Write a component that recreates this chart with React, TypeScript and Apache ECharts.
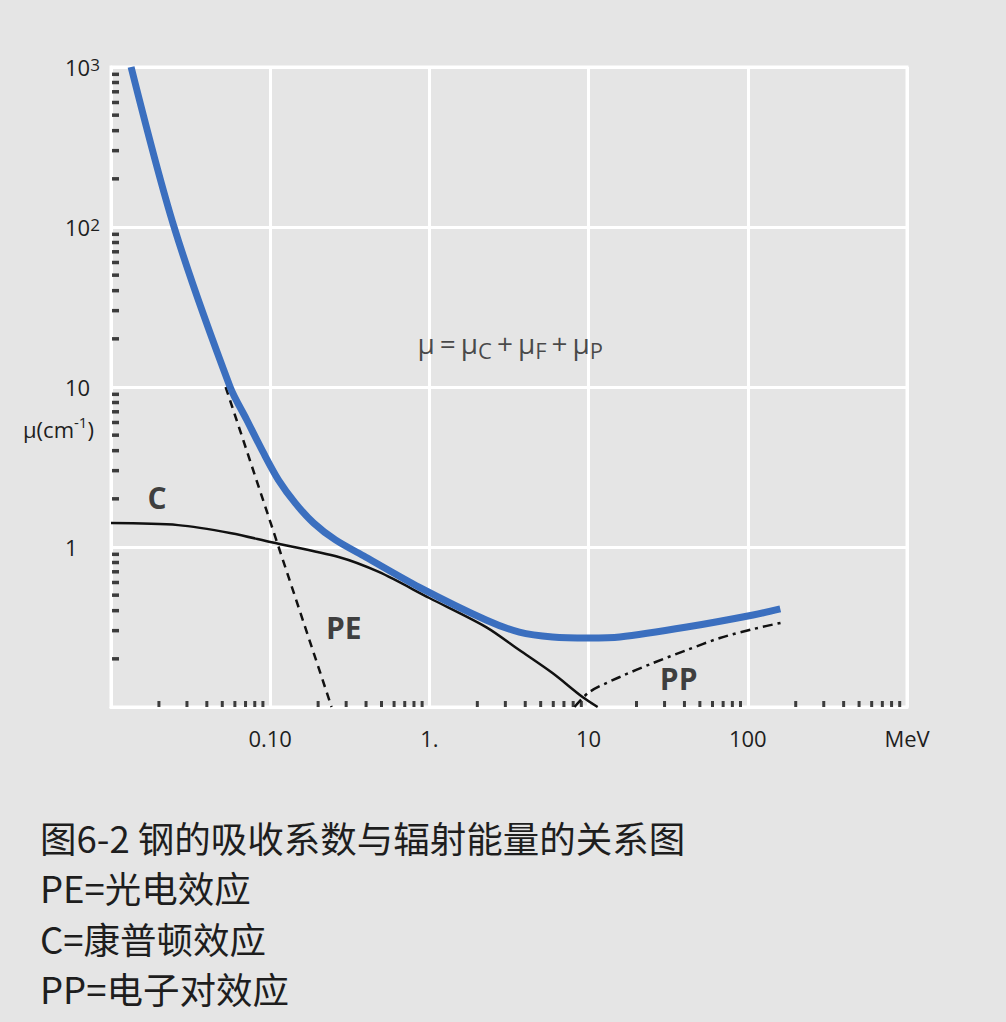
import React, { useEffect, useRef } from "react";
import * as echarts from "echarts";

// Total attenuation (blue)
const energyTotal = [0.01337, 0.0249, 0.056, 0.0713, 0.0908, 0.1128, 0.1438, 0.1876, 0.257, 0.397, 0.86, 2.27, 3.67, 5.93, 10, 15.7, 41.4, 108, 160];
const muTotal = [1000, 100, 10, 6.22, 3.87, 2.62, 1.88, 1.41, 1.107, 0.866, 0.562, 0.35, 0.294, 0.274, 0.27, 0.274, 0.316, 0.376, 0.41];

// Compton (C)
const energyC = [0.01, 0.0264, 0.057, 0.102, 0.269, 0.481, 1.0, 2.27, 3.67, 5.93, 9.16, 11.4];
const muC = [1.41, 1.37, 1.22, 1.07, 0.866, 0.698, 0.48, 0.316, 0.227, 0.163, 0.1155, 0.1];

// Photoelectric (PE)
const energyPE = [0.0525, 0.243];
const muPE = [10, 0.1];

// Pair production (PP)
const energyPP = [8.15, 10.1, 15.7, 25.3, 41.4, 66.8, 108, 171];
const muPP = [0.1, 0.124, 0.154, 0.188, 0.227, 0.27, 0.307, 0.34];

// Axis tick labels
const xTickValues = [0.1, 1, 10, 100, 1000];
const xTickLabels = ["0.10", "1.", "10", "100", "MeV"];
const yTickValues = [1, 10, 100, 1000];
const yTickLabels = ["1", "10", "10{s|2}", "10{s|3}"];

// Minor tick positions
const xMinorTicks = [
  0.02, 0.03, 0.04, 0.05, 0.06, 0.07, 0.08, 0.09,
  0.2, 0.3, 0.4, 0.5, 0.6, 0.7, 0.8, 0.9,
  2, 3, 4, 5, 6, 7, 8, 9,
  20, 30, 40, 50, 60, 70, 80, 90,
  200, 300, 400, 500, 600, 700, 800, 900,
];
const yMinorTicks = [
  0.2, 0.3, 0.4, 0.5, 0.6, 0.7, 0.8, 0.9,
  2, 3, 4, 5, 6, 7, 8, 9,
  20, 30, 40, 50, 60, 70, 80, 90,
  200, 300, 400, 500, 600, 700, 800, 900,
];

// Curve annotations
const annotationNames = ["C", "PE", "PP"];
const annotationX = [0.0195, 0.29, 36.8];
const annotationY = [2.05, 0.316, 0.15];
const formulaX = 3.22;
const formulaY = 18.8;

const captionLines = ["图6-2 钢的吸收系数与辐射能量的关系图", "PE=光电效应", "C=康普顿效应", "PP=电子对效应"];

const FONT = "'Open Sans', 'Noto Sans', sans-serif";
const CJK = "'Noto Sans CJK SC', sans-serif";
const TEXT = "#1e1e1e";

const zip = (xs: number[], ys: number[]) => xs.map((x, i) => [x, ys[i]]);
const findLabel = (v: number, vals: number[], labels: string[]) => {
  for (let i = 0; i < vals.length; i++) {
    if (Math.abs(Math.log10(v) - Math.log10(vals[i])) < 1e-6) return labels[i];
  }
  return "";
};

export default function App() {
  const ref = useRef<HTMLDivElement>(null);
  useEffect(() => {
    const chart = echarts.init(ref.current!, null, { renderer: "svg" });
    chart.setOption({
      animation: false,
      backgroundColor: "#e5e5e5",
      grid: { left: 111, right: 99, top: 67, bottom: 315, show: true, borderColor: "#ffffff", borderWidth: 3 },
      xAxis: {
        type: "log",
        logBase: 10,
        min: 0.01,
        max: 1000,
        axisLine: { show: true, lineStyle: { color: "#ffffff", width: 3 } },
        axisTick: { show: false },
        splitLine: { show: true, lineStyle: { color: "#ffffff", width: 3 } },
        axisLabel: {
          margin: 20,
          fontSize: 22,
          color: TEXT,
          fontFamily: FONT,
          showMinLabel: true,
          showMaxLabel: true,
          formatter: (v: number) => findLabel(v, xTickValues, xTickLabels),
        },
      },
      yAxis: {
        type: "log",
        logBase: 10,
        min: 0.1,
        max: 1000,
        axisLine: { show: true, lineStyle: { color: "#ffffff", width: 3 } },
        axisTick: { show: false },
        splitLine: { show: true, lineStyle: { color: "#ffffff", width: 3 } },
        axisLabel: {
          margin: 46,
          align: "left",
          fontSize: 22,
          color: TEXT,
          fontFamily: FONT,
          showMinLabel: true,
          showMaxLabel: true,
          formatter: (v: number) => findLabel(v, yTickValues, yTickLabels),
          rich: {
            s: { fontSize: 17, color: TEXT, fontFamily: FONT, verticalAlign: "top" },
          },
        },
      },
      series: [
        {
          type: "line",
          name: "C",
          data: zip(energyC, muC),
          showSymbol: false,
          symbol: "none",
          smooth: 0.3,
          lineStyle: { color: "#111111", width: 2.5 },
          z: 3,
        },
        {
          type: "line",
          name: "PE",
          data: zip(energyPE, muPE),
          showSymbol: false,
          symbol: "none",
          lineStyle: { color: "#111111", width: 2.5, type: [8, 6] },
          z: 3,
        },
        {
          type: "line",
          name: "PP",
          data: zip(energyPP, muPP),
          showSymbol: false,
          symbol: "none",
          smooth: 0.3,
          lineStyle: { color: "#111111", width: 2.5, type: [10, 5, 3, 5] },
          z: 3,
        },
        {
          type: "line",
          name: "total",
          data: zip(energyTotal, muTotal),
          showSymbol: false,
          symbol: "none",
          smooth: 0.3,
          lineStyle: { color: "#3b6fbf", width: 7, cap: "butt" },
          z: 4,
        },
        {
          type: "scatter",
          name: "xMinor",
          data: xMinorTicks.map((v) => [v, 0.1]),
          symbol: "rect",
          symbolSize: [3, 6],
          symbolOffset: [0, -3],
          itemStyle: { color: "#111111" },
          clip: false,
          silent: true,
          z: 5,
        },
        {
          type: "scatter",
          name: "yMinor",
          data: yMinorTicks.map((v) => [0.01, v]),
          symbol: "rect",
          symbolSize: [7, 3.5],
          symbolOffset: [4.5, 0],
          itemStyle: { color: "#111111" },
          clip: false,
          silent: true,
          z: 5,
        },
        {
          type: "scatter",
          name: "annotations",
          data: annotationNames.map((n, i) => ({ name: n, value: [annotationX[i], annotationY[i]] })),
          symbolSize: 0,
          silent: true,
          label: {
            show: true,
            position: "inside",
            formatter: "{b}",
            fontSize: 30,
            fontWeight: "bold",
            color: "#111111",
            fontFamily: FONT,
          },
          z: 6,
        },
        {
          type: "scatter",
          name: "formula",
          data: [{ name: "formula", value: [formulaX, formulaY] }],
          symbolSize: 0,
          silent: true,
          label: {
            show: true,
            position: "inside",
            formatter: "{m|μ}{o|=}{m|μ}{s|C}{o|+}{m|μ}{s|F}{o|+}{m|μ}{s|P}",
            rich: {
              m: { fontSize: 28, color: TEXT, fontFamily: FONT, lineHeight: 36, verticalAlign: "middle" },
              o: { fontSize: 28, color: TEXT, fontFamily: FONT, verticalAlign: "middle", padding: [0, 5, 0, 5] },
              s: { fontSize: 22, color: TEXT, fontFamily: FONT, verticalAlign: "bottom" },
            },
          },
          z: 6,
        },
      ],
      graphic: [
        {
          type: "text",
          x: 23,
          y: 427,
          style: {
            text: "{a|μ(cm}{s|-1}{a|)}",
            verticalAlign: "middle",
            rich: {
              a: { fontSize: 22, fill: TEXT, fontFamily: FONT, lineHeight: 26, verticalAlign: "bottom" },
              s: { fontSize: 15, fill: TEXT, fontFamily: FONT, verticalAlign: "top" },
            },
          },
        },
        ...captionLines.map((t, i) => ({
          type: "text",
          x: 40,
          y: 837 + i * 50.5,
          style: {
            text: t,
            fontSize: 36.5,
            fontFamily: CJK,
            fill: TEXT,
            verticalAlign: "middle",
          },
        })),
      ],
    });
    return () => chart.dispose();
  }, []);
  return (
    <div
      ref={ref}
      style={{ position: "fixed", left: 0, top: 0, width: 1006, height: 1022, background: "#e5e5e5" }}
    />
  );
}
